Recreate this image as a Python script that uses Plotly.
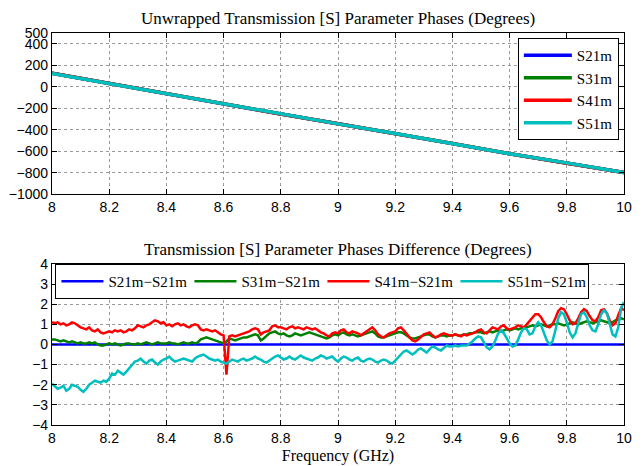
import plotly.graph_objects as go
from plotly.subplots import make_subplots

# ---------------- data ----------------
# top panel: unwrapped phases (degrees), read every 0.2 GHz
freq_top = [8.0, 8.2, 8.4, 8.6, 8.8, 9.0, 9.2, 9.4, 9.6, 9.8, 10.0]
s21m = [125, 30, -65, -165, -255, -345, -435, -530, -625, -710, -800]
s31m = [125, 30, -65, -164, -254, -344, -434, -529, -624, -709, -799]
s41m = [126, 31, -64, -164, -254, -344, -434, -529, -624, -709, -798]
s51m = [123, 29, -66, -166, -256, -346, -435, -530, -625, -709, -798]

# bottom panel: phase differences (degrees), read every 0.01 GHz
freq = [round(8 + i * 0.01, 2) for i in range(201)]

d31 = [
    0.25, 0.25, 0.20, 0.15, 0.20, 0.15, 0.10, 0.15, 0.10, 0.05,
    0.10, 0.05, 0.05, 0.10, 0.05, 0.10, 0.00, -0.05, -0.05, 0.00,
    0.05, 0.00, 0.05, 0.00, -0.05, 0.00, 0.05, 0.05, 0.00, 0.00,
    0.05, 0.00, 0.05, 0.10, 0.05, 0.00, 0.05, 0.10, 0.05, 0.05,
    0.05, 0.10, 0.05, 0.05, 0.00, 0.05, 0.10, 0.05, 0.05, 0.10,
    0.05, 0.10, 0.25, 0.30, 0.35, 0.30, 0.25, 0.20, 0.15, 0.10,
    0.05, 0.15, 0.30, 0.25, 0.20, 0.25, 0.30, 0.35, 0.35, 0.40,
    0.45, 0.50, 0.45, 0.20, 0.30, 0.45, 0.55, 0.60, 0.65, 0.55,
    0.50, 0.55, 0.45, 0.40, 0.45, 0.55, 0.50, 0.45, 0.50, 0.55,
    0.60, 0.55, 0.50, 0.45, 0.40, 0.35, 0.30, 0.35, 0.45, 0.50,
    0.45, 0.55, 0.60, 0.50, 0.45, 0.50, 0.45, 0.40, 0.45, 0.50,
    0.55, 0.60, 0.65, 0.55, 0.40, 0.35, 0.35, 0.40, 0.45, 0.50,
    0.55, 0.60, 0.60, 0.55, 0.45, 0.35, 0.30, 0.30, 0.35, 0.40,
    0.45, 0.50, 0.50, 0.40, 0.35, 0.40, 0.45, 0.45, 0.40, 0.45,
    0.45, 0.50, 0.45, 0.45, 0.50, 0.50, 0.55, 0.55, 0.60, 0.60,
    0.60, 0.55, 0.60, 0.65, 0.60, 0.65, 0.70, 0.65, 0.70, 0.75,
    0.70, 0.75, 0.80, 0.75, 0.80, 0.85, 0.85, 0.90, 0.95, 0.90,
    0.95, 1.00, 0.95, 0.90, 0.95, 1.00, 1.00, 1.05, 1.00, 0.95,
    1.00, 1.05, 1.10, 1.05, 1.00, 1.05, 1.10, 1.15, 1.10, 1.05,
    1.10, 1.15, 1.20, 1.15, 1.10, 1.05, 1.10, 1.20, 1.25, 1.30,
    1.25,
]

d41 = [
    1.10, 1.05, 1.10, 1.00, 1.05, 0.95, 1.00, 1.10, 1.05, 0.95,
    0.85, 0.80, 0.75, 0.85, 0.70, 0.65, 0.75, 0.60, 0.55, 0.60,
    0.65, 0.60, 0.70, 0.65, 0.70, 0.60, 0.65, 0.75, 0.70, 0.80,
    0.95, 0.90, 0.85, 0.95, 1.00, 1.10, 1.20, 1.15, 1.05, 1.10,
    0.95, 1.00, 0.90, 1.00, 1.05, 0.95, 1.00, 0.90, 0.85, 0.95,
    1.00, 0.95, 0.75, 0.70, 0.75, 0.70, 0.65, 0.70, 0.60, 0.50,
    0.45, -1.50, 0.40, 0.45, 0.40, 0.45, 0.50, 0.55, 0.60, 0.65,
    0.75, 0.80, 0.75, 0.50, 0.60, 0.65, 0.70, 0.90, 0.95, 0.85,
    0.85, 0.80, 0.75, 0.85, 0.90, 0.80, 0.85, 0.80, 0.75, 0.85,
    0.80, 0.75, 0.80, 0.70, 0.60, 0.55, 0.45, 0.40, 0.55, 0.60,
    0.55, 0.70, 0.75, 0.60, 0.55, 0.65, 0.60, 0.55, 0.45, 0.55,
    0.65, 0.75, 0.85, 0.70, 0.50, 0.40, 0.35, 0.45, 0.55, 0.60,
    0.65, 0.80, 0.85, 0.70, 0.50, 0.35, 0.20, 0.15, 0.25, 0.40,
    0.50, 0.55, 0.60, 0.45, 0.35, 0.40, 0.50, 0.55, 0.50, 0.45,
    0.45, 0.50, 0.45, 0.40, 0.50, 0.45, 0.50, 0.55, 0.60, 0.70,
    0.75, 0.60, 0.55, 0.70, 0.85, 0.80, 0.75, 0.90, 0.95, 0.80,
    0.75, 0.80, 0.85, 0.95, 0.90, 0.85, 1.00, 1.15, 1.35, 1.50,
    1.50, 1.35, 1.10, 0.90, 0.85, 1.00, 1.30, 1.65, 1.80, 1.75,
    1.50, 1.20, 1.00, 1.05, 1.30, 1.60, 1.75, 1.65, 1.40, 1.20,
    1.15, 1.35, 1.70, 1.75, 1.55, 1.20, 0.95, 1.05, 1.45, 1.80,
    1.70,
]

d51 = [
    -1.95, -2.10, -2.20, -2.15, -2.05, -2.30, -2.20, -2.00, -2.05, -2.10,
    -2.25, -2.35, -2.20, -2.00, -1.90, -1.80, -1.85, -1.90, -1.80, -1.85,
    -1.70, -1.45, -1.50, -1.30, -1.40, -1.50, -1.35, -1.20, -1.05, -0.85,
    -0.80, -0.70, -0.85, -0.95, -0.80, -0.75, -0.90, -1.00, -0.85, -0.75,
    -0.70, -0.60, -0.75, -0.85, -0.80, -0.75, -0.70, -0.75, -0.80, -0.85,
    -0.70, -0.60, -0.55, -0.50, -0.60, -0.70, -0.75, -0.80, -0.75, -0.85,
    -0.90, -0.95, -0.85, -0.75, -0.80, -0.85, -0.75, -0.70, -0.80, -0.75,
    -0.70, -0.60, -0.70, -0.75, -0.85, -0.90, -0.80, -0.70, -0.60, -0.55,
    -0.65, -0.75, -0.70, -0.60, -0.70, -0.75, -0.65, -0.55, -0.65, -0.70,
    -0.75, -0.80, -0.70, -0.65, -0.55, -0.60, -0.70, -0.65, -0.60, -0.75,
    -0.85, -0.70, -0.60, -0.65, -0.75, -0.80, -0.70, -0.65, -0.80, -0.85,
    -0.75, -0.70, -0.75, -0.85, -0.90, -0.80, -0.75, -0.80, -0.90, -0.95,
    -0.80, -0.60, -0.45, -0.35, -0.30, -0.40, -0.50, -0.40, -0.25, -0.20,
    -0.30, -0.40, -0.25, -0.10, -0.15, -0.25, -0.30, -0.15, -0.05, -0.10,
    -0.10, -0.05, -0.10, -0.05, -0.05, -0.05, 0.05, 0.15, 0.30, 0.40,
    0.35, 0.10, -0.15, -0.25, -0.10, 0.20, 0.55, 0.70, 0.55, 0.30,
    0.05, -0.10, -0.05, 0.25, 0.60, 0.80, 0.75, 0.50, 0.55, 0.90,
    1.10, 0.95, 0.60, 0.20, 0.00, 0.15, 0.70, 1.30, 1.60, 1.50,
    1.10, 0.60, 0.35, 0.55, 1.05, 1.50, 1.60, 1.35, 0.95, 0.70,
    0.65, 1.00, 1.50, 1.70, 1.55, 1.05, 0.50, 0.40, 0.85, 1.80,
    2.10,
]

d21 = [0.0] * len(freq)  # S21m - S21m

top_names = ["S21m", "S31m", "S41m", "S51m"]
bot_names = ["S21m\u2212S21m", "S31m\u2212S21m", "S41m\u2212S21m", "S51m\u2212S21m"]
colors = ["#0000FF", "#008000", "#FF0000", "#00BFBF"]

x_ticks = [8, 8.2, 8.4, 8.6, 8.8, 9, 9.2, 9.4, 9.6, 9.8, 10]
x_ticktext = ["8", "8.2", "8.4", "8.6", "8.8", "9", "9.2", "9.4", "9.6", "9.8", "10"]
y_top_ticks = [-1000, -800, -600, -400, -200, 0, 200, 400, 500]
y_bot_ticks = [-4, -3, -2, -1, 0, 1, 2, 3, 4]

# ---------------- figure ----------------
fig = make_subplots(rows=2, cols=1, vertical_spacing=0.178)

for name, vals, c in zip(top_names, [s21m, s31m, s41m, s51m], colors):
    fig.add_trace(go.Scatter(x=freq_top, y=vals, mode="lines", name=name,
                             line=dict(color=c, width=3.5), legend="legend"),
                  row=1, col=1)

for name, vals, c in zip(bot_names, [d21, d31, d41, d51], colors):
    fig.add_trace(go.Scatter(x=freq, y=vals, mode="lines", name=name,
                             line=dict(color=c, width=2.5), legend="legend2"),
                  row=2, col=1)

serif = "Liberation Serif, Times New Roman, serif"
sans = "Liberation Sans, Arial, sans-serif"

axis_common = dict(
    showline=True, linecolor="black", linewidth=1.2, mirror="ticks",
    ticks="inside", ticklen=5, tickcolor="black",
    showgrid=True, gridcolor="#9a9a9a", griddash="dot", gridwidth=1,
    zeroline=False, automargin=False,
    tickfont=dict(family=sans, size=14, color="black"),
)

fig.update_xaxes(range=[8, 10], tickvals=x_ticks, ticktext=x_ticktext, **axis_common)
fig.update_yaxes(**axis_common)
fig.update_yaxes(range=[-1000, 500], tickvals=y_top_ticks, row=1, col=1)
fig.update_yaxes(range=[-4, 4], tickvals=y_bot_ticks, row=2, col=1)
fig.update_xaxes(title=dict(text="Frequency (GHz)", font=dict(family=serif, size=16, color="black"),
                            standoff=4), row=2, col=1)

fig.update_layout(
    width=643, height=466,
    margin=dict(l=52, r=19, t=33, b=41),
    paper_bgcolor="white", plot_bgcolor="white",
    font=dict(family=serif, color="black"),
    legend=dict(x=0.991, y=0.987, xanchor="right", yanchor="top",
                bordercolor="black", borderwidth=1, bgcolor="white",
                font=dict(family=serif, size=15, color="black"),
                itemwidth=48, tracegroupgap=0),
    legend2=dict(x=0.006, y=0.411, xanchor="left", yanchor="top", orientation="h",
                 bordercolor="black", borderwidth=1, bgcolor="white",
                 font=dict(family=serif, size=15, color="black"),
                 itemwidth=42, entrywidth=76),
    annotations=[
        dict(text="Unwrapped Transmission [S] Parameter Phases (Degrees)",
             x=0.5, y=1.0, xref="paper", yref="paper", xanchor="center", yanchor="bottom",
             yshift=3, showarrow=False, font=dict(family=serif, size=17, color="black")),
        dict(text="Transmission [S] Parameter Phases Difference (Degrees)",
             x=0.5, y=0.411, xref="paper", yref="paper", xanchor="center", yanchor="bottom",
             yshift=3, showarrow=False, font=dict(family=serif, size=17, color="black")),
    ],
)

fig.write_html("out.html", config={"displayModeBar": False},
               post_script="document.body.style.margin='0';")
